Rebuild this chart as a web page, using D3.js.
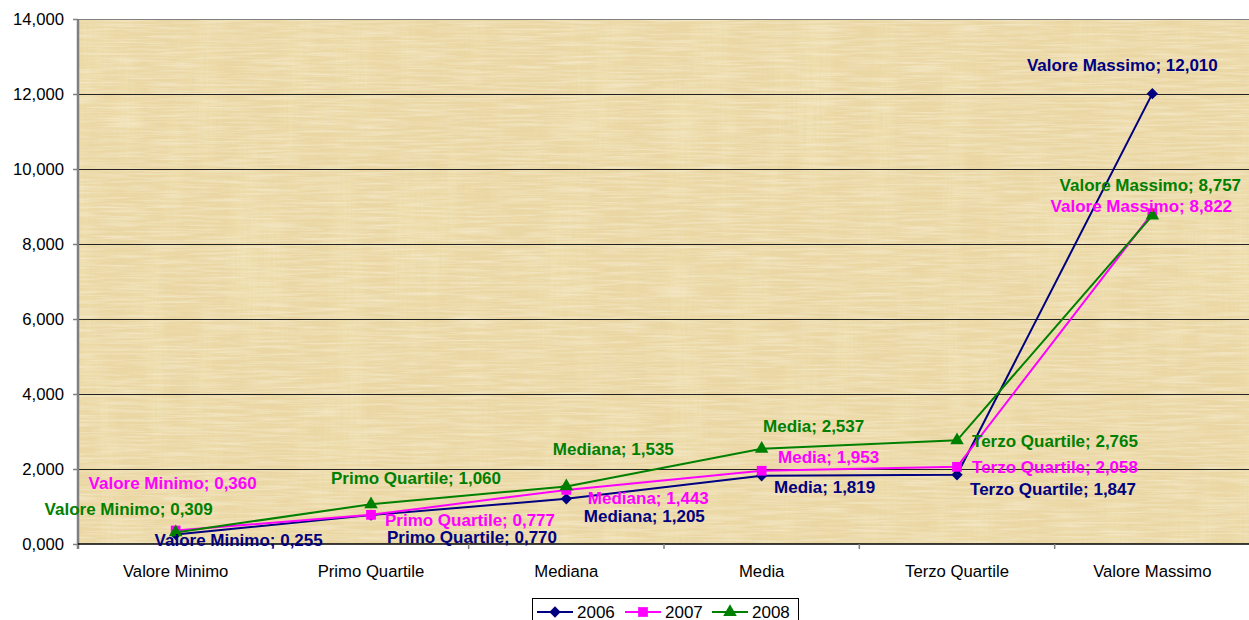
<!DOCTYPE html>
<html>
<head>
<meta charset="utf-8">
<script src="https://cdn.jsdelivr.net/npm/d3@7"></script>
<style>
  body { margin: 0; background: #fff; }
  svg { display: block; font-family: Arial, "Liberation Sans", sans-serif; }
</style>
</head>
<body>
<svg class="js-chart" width="1249" height="620"></svg>
<script>
var categories = ['Valore Minimo', 'Primo Quartile', 'Mediana', 'Media', 'Terzo Quartile', 'Valore Massimo'],
    years = ['2006', '2007', '2008'],
    values2006 = [0.255, 0.770, 1.205, 1.819, 1.847, 12.010],
    values2007 = [0.360, 0.777, 1.443, 1.953, 2.058, 8.822],
    values2008 = [0.309, 1.060, 1.535, 2.537, 2.765, 8.757],
    yTicks = [0, 2, 4, 6, 8, 10, 12, 14];

// label offsets from each point (moved by hand in the original)
var labelOffsets = {
  '2006': [[63, 6], [101, 22], [78, 17], [63, 11], [96, 14], [-30, -29]],
  '2007': [[-3, -47], [99, 5], [82, 8], [67, -14], [98, 0], [-11, -7]],
  '2008': [[-47, -23], [45, -26], [47, -37], [52, -23], [98, 1], [-2, -31]]
};

var colors = { '2006': '#000080', '2007': '#ff00ff', '2008': '#008000' },
    symbols = { '2006': d3.symbolSquare, '2007': d3.symbolSquare, '2008': d3.symbolTriangle },
    symSize = { '2006': 64, '2007': 95, '2008': 80 },
    symRot = { '2006': 45, '2007': 0, '2008': 0 };

var series = [
  { year: '2006', values: values2006 },
  { year: '2007', values: values2007 },
  { year: '2008', values: values2008 }
];

var plotLeft = 78, plotRight = 1250, plotTop = 19, plotBottom = 544;

var svg = d3.select('.js-chart');

var fmt = function(v) { return d3.format('.3f')(v).replace('.', ','); };

var x = d3.scaleBand().domain(categories).range([plotLeft, plotRight]);
var y = d3.scaleLinear().domain([0, 14]).range([plotBottom, plotTop]);

// papyrus-ish background
var defs = svg.append('defs');
var f = defs.append('filter').attr('id', 'papyrus')
    .attr('x', 0).attr('y', 0).attr('width', '100%').attr('height', '100%');
f.append('feTurbulence').attr('type', 'fractalNoise').attr('baseFrequency', '0.45 0.02')
    .attr('numOctaves', 3).attr('seed', 4).attr('result', 'v');
f.append('feColorMatrix').attr('in', 'v').attr('type', 'matrix')
    .attr('values', '0 0 0 0 0.78  0 0 0 0 0.66  0 0 0 0 0.40  1.6 0 0 0 -0.62').attr('result', 'vc');
f.append('feTurbulence').attr('type', 'fractalNoise').attr('baseFrequency', '0.02 0.45')
    .attr('numOctaves', 3).attr('seed', 9).attr('result', 'h');
f.append('feColorMatrix').attr('in', 'h').attr('type', 'matrix')
    .attr('values', '0 0 0 0 0.98  0 0 0 0 0.93  0 0 0 0 0.80  1.6 0 0 0 -0.62').attr('result', 'hc');
f.append('feTurbulence').attr('type', 'fractalNoise').attr('baseFrequency', '0.03 0.006')
    .attr('numOctaves', 2).attr('seed', 2).attr('result', 'p');
f.append('feColorMatrix').attr('in', 'p').attr('type', 'matrix')
    .attr('values', '0 0 0 0 0.92  0 0 0 0 0.83  0 0 0 0 0.50  1.6 0 0 0 -0.72').attr('result', 'pc');
var m = f.append('feMerge');
m.append('feMergeNode').attr('in', 'pc');
m.append('feMergeNode').attr('in', 'vc');
m.append('feMergeNode').attr('in', 'hc');

svg.append('rect')
    .attr('x', plotLeft).attr('y', plotTop)
    .attr('width', plotRight - plotLeft).attr('height', plotBottom - plotTop)
    .attr('fill', '#ebd7a3');
svg.append('rect')
    .attr('x', plotLeft).attr('y', plotTop)
    .attr('width', plotRight - plotLeft).attr('height', plotBottom - plotTop)
    .attr('fill', '#fff')
    .attr('filter', 'url(#papyrus)')
    .attr('opacity', 0.6);

// gridlines
svg.append('g')
    .attr('shape-rendering', 'crispEdges')
  .selectAll('line')
  .data(yTicks.filter(function(d) { return d > 0 && d < 14; }))
  .enter()
  .append('line')
    .attr('x1', plotLeft).attr('x2', plotRight)
    .attr('y1', function(d) { return y(d); })
    .attr('y2', function(d) { return y(d); })
    .attr('stroke', '#222').attr('stroke-width', 1);

svg.append('line')
    .attr('shape-rendering', 'crispEdges')
    .attr('x1', plotLeft).attr('x2', plotRight).attr('y1', plotTop).attr('y2', plotTop)
    .attr('stroke', '#808080').attr('stroke-width', 1);

// y axis
var yAxis = svg.append('g')
    .attr('transform', 'translate(' + plotLeft + ',0)')
    .call(d3.axisLeft(y).tickValues(yTicks).tickFormat(fmt).tickSize(5).tickPadding(9));
yAxis.select('.domain').attr('stroke', '#808080').attr('stroke-width', 2.5)
    .attr('d', 'M0,' + plotTop + 'V' + (plotBottom + 5));
yAxis.selectAll('.tick line').attr('stroke', '#808080').attr('stroke-width', 1.5);
yAxis.selectAll('.tick text').attr('font-size', '16.7px').attr('fill', '#000')
    .attr('font-family', 'Arial, "Liberation Sans", sans-serif');

// x axis
var xAxis = svg.append('g')
    .attr('transform', 'translate(0,' + plotBottom + ')')
    .call(d3.axisBottom(x).tickSize(0).tickPadding(21));
xAxis.select('.domain').attr('stroke', '#000').attr('stroke-width', 1.5)
    .attr('d', 'M' + plotLeft + ',0H' + plotRight);
xAxis.selectAll('.tick text').attr('font-size', '16.7px').attr('fill', '#000')
    .attr('font-family', 'Arial, "Liberation Sans", sans-serif');
svg.append('g')
  .selectAll('line')
  .data(categories.slice(1))
  .enter()
  .append('line')
    .attr('x1', function(d) { return x(d); })
    .attr('x2', function(d) { return x(d); })
    .attr('y1', plotBottom).attr('y2', plotBottom + 5)
    .attr('stroke', '#808080').attr('stroke-width', 1.5);

// lines + markers
var line = d3.line()
    .x(function(d, i) { return x(categories[i]) + x.bandwidth() / 2; })
    .y(function(d) { return y(d); });

var g = svg.selectAll('.series')
    .data(series)
    .enter()
    .append('g')
    .attr('class', 'series');

g.append('path')
    .attr('d', function(s) { return line(s.values); })
    .attr('fill', 'none')
    .attr('stroke', function(s) { return colors[s.year]; })
    .attr('stroke-width', 2);

g.selectAll('.pt')
    .data(function(s) { return s.values.map(function(v, i) { return { year: s.year, v: v, i: i }; }); })
    .enter()
    .append('path')
    .attr('class', 'pt')
    .attr('transform', function(d) {
      return 'translate(' + (x(categories[d.i]) + x.bandwidth() / 2) + ',' + y(d.v) + ') rotate(' + symRot[d.year] + ')';
    })
    .attr('d', function(d) { return d3.symbol().type(symbols[d.year]).size(symSize[d.year])(); })
    .attr('fill', function(d) { return colors[d.year]; });

// data labels
var labels = series.reduce(function(acc, s) {
  return acc.concat(s.values.map(function(v, i) { return { year: s.year, v: v, i: i }; }));
}, []);

svg.append('g')
  .selectAll('text')
  .data(labels)
  .enter()
  .append('text')
    .attr('x', function(d) { return x(categories[d.i]) + x.bandwidth() / 2 + labelOffsets[d.year][d.i][0]; })
    .attr('y', function(d) { return y(d.v) + labelOffsets[d.year][d.i][1]; })
    .attr('dy', '0.35em')
    .attr('text-anchor', 'middle')
    .attr('font-size', '17px')
    .attr('font-weight', 'bold')
    .attr('fill', function(d) { return colors[d.year]; })
    .text(function(d) { return categories[d.i] + '; ' + fmt(d.v); });

// legend
var legend = svg.append('g');
legend.append('rect')
    .attr('x', 532.5).attr('y', 598.5).attr('width', 266).attr('height', 30)
    .attr('fill', '#fff').attr('stroke', '#000').attr('stroke-width', 1);

var item = legend.selectAll('.item')
    .data(years)
    .enter()
    .append('g')
    .attr('transform', function(d, i) { return 'translate(' + [537, 625, 712][i] + ',612)'; });
item.append('line')
    .attr('x1', 0).attr('x2', 36)
    .attr('stroke', function(d) { return colors[d]; })
    .attr('stroke-width', 2);
item.append('path')
    .attr('transform', function(d) { return 'translate(18,0) rotate(' + symRot[d] + ')'; })
    .attr('d', function(d) { return d3.symbol().type(symbols[d]).size(symSize[d])(); })
    .attr('fill', function(d) { return colors[d]; });
item.append('text')
    .attr('x', 40).attr('y', 6)
    .attr('font-size', '17px')
    .attr('fill', '#000')
    .text(function(d) { return d; });
</script>
</body>
</html>
